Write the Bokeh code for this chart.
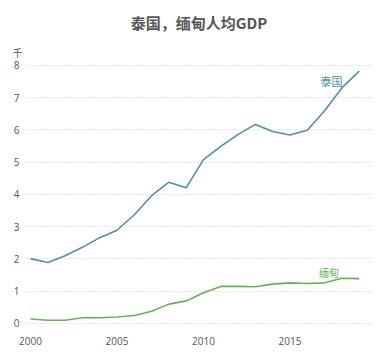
from bokeh.plotting import figure
from bokeh.models import Range1d, Label, FixedTicker, Title
from bokeh.embed import file_html
from bokeh.resources import INLINE

years = list(range(2000, 2020))
thailand = [2.01, 1.89, 2.10, 2.36, 2.66, 2.89, 3.37, 3.96, 4.38, 4.21, 5.08, 5.49, 5.86, 6.17, 5.95, 5.84, 5.99, 6.59, 7.30, 7.82]
myanmar = [0.14, 0.10, 0.10, 0.18, 0.18, 0.20, 0.25, 0.38, 0.60, 0.70, 0.95, 1.15, 1.15, 1.14, 1.22, 1.26, 1.24, 1.26, 1.40, 1.39]
y_ticks = [0, 1, 2, 3, 4, 5, 6, 7, 8]
x_ticks = [2000, 2005, 2010, 2015]

BLUE = "#4f8fa8"
GREEN = "#62b553"
FONT = "Noto Sans CJK SC"

p = figure(width=376, height=356, output_backend="svg", toolbar_location=None,
           x_range=Range1d(1999.71, 2019.77), y_range=Range1d(-0.31, 8.15),
           min_border_left=25, min_border_right=4, min_border_bottom=23, min_border_top=58,
           background_fill_color="white", border_fill_color="white", title=None)
p.outline_line_color = None

unit = Title(text="千", align="left", offset=-13, standoff=1, text_font=FONT,
             text_font_size="10px", text_font_style="normal", text_color="#555555")
p.add_layout(unit, "above")
main = Title(text="泰国，缅甸人均GDP", align="center", offset=-4, text_font=FONT,
             text_font_size="15px", text_font_style="bold", text_color="#555555", standoff=19)
p.add_layout(main, "above")

p.line(years, thailand, line_color=BLUE, line_width=1.6)
p.line(years, myanmar, line_color=GREEN, line_width=1.6)

p.xgrid.grid_line_color = None
p.ygrid.grid_line_color = "#cccccc"
p.ygrid.grid_line_dash = "1 2"
p.ygrid.grid_line_width = 1
p.yaxis.ticker = FixedTicker(ticks=y_ticks)
p.xaxis.ticker = FixedTicker(ticks=x_ticks)

for ax in (p.xaxis, p.yaxis):
    ax.axis_line_color = None
    ax.major_tick_line_color = None
    ax.minor_tick_line_color = None
    ax.major_tick_out = 0
    ax.major_tick_in = 0
    ax.axis_label_standoff = 0
    ax.major_label_text_color = "#555555"
    ax.major_label_text_font = "Open Sans"
    ax.major_label_text_font_size = "10px"
p.yaxis.major_label_standoff = 6
p.xaxis.major_label_standoff = 3

p.add_layout(Label(x=2017.4, y=7.5, text="泰国", text_font=FONT, text_font_size="11px",
                   text_color=BLUE, text_align="center", text_baseline="middle"))
p.add_layout(Label(x=2017.25, y=1.57, text="缅甸", text_font=FONT, text_font_size="10px",
                   text_color=GREEN, text_align="center", text_baseline="middle"))

open("out.html", "w").write(file_html(p, INLINE))
